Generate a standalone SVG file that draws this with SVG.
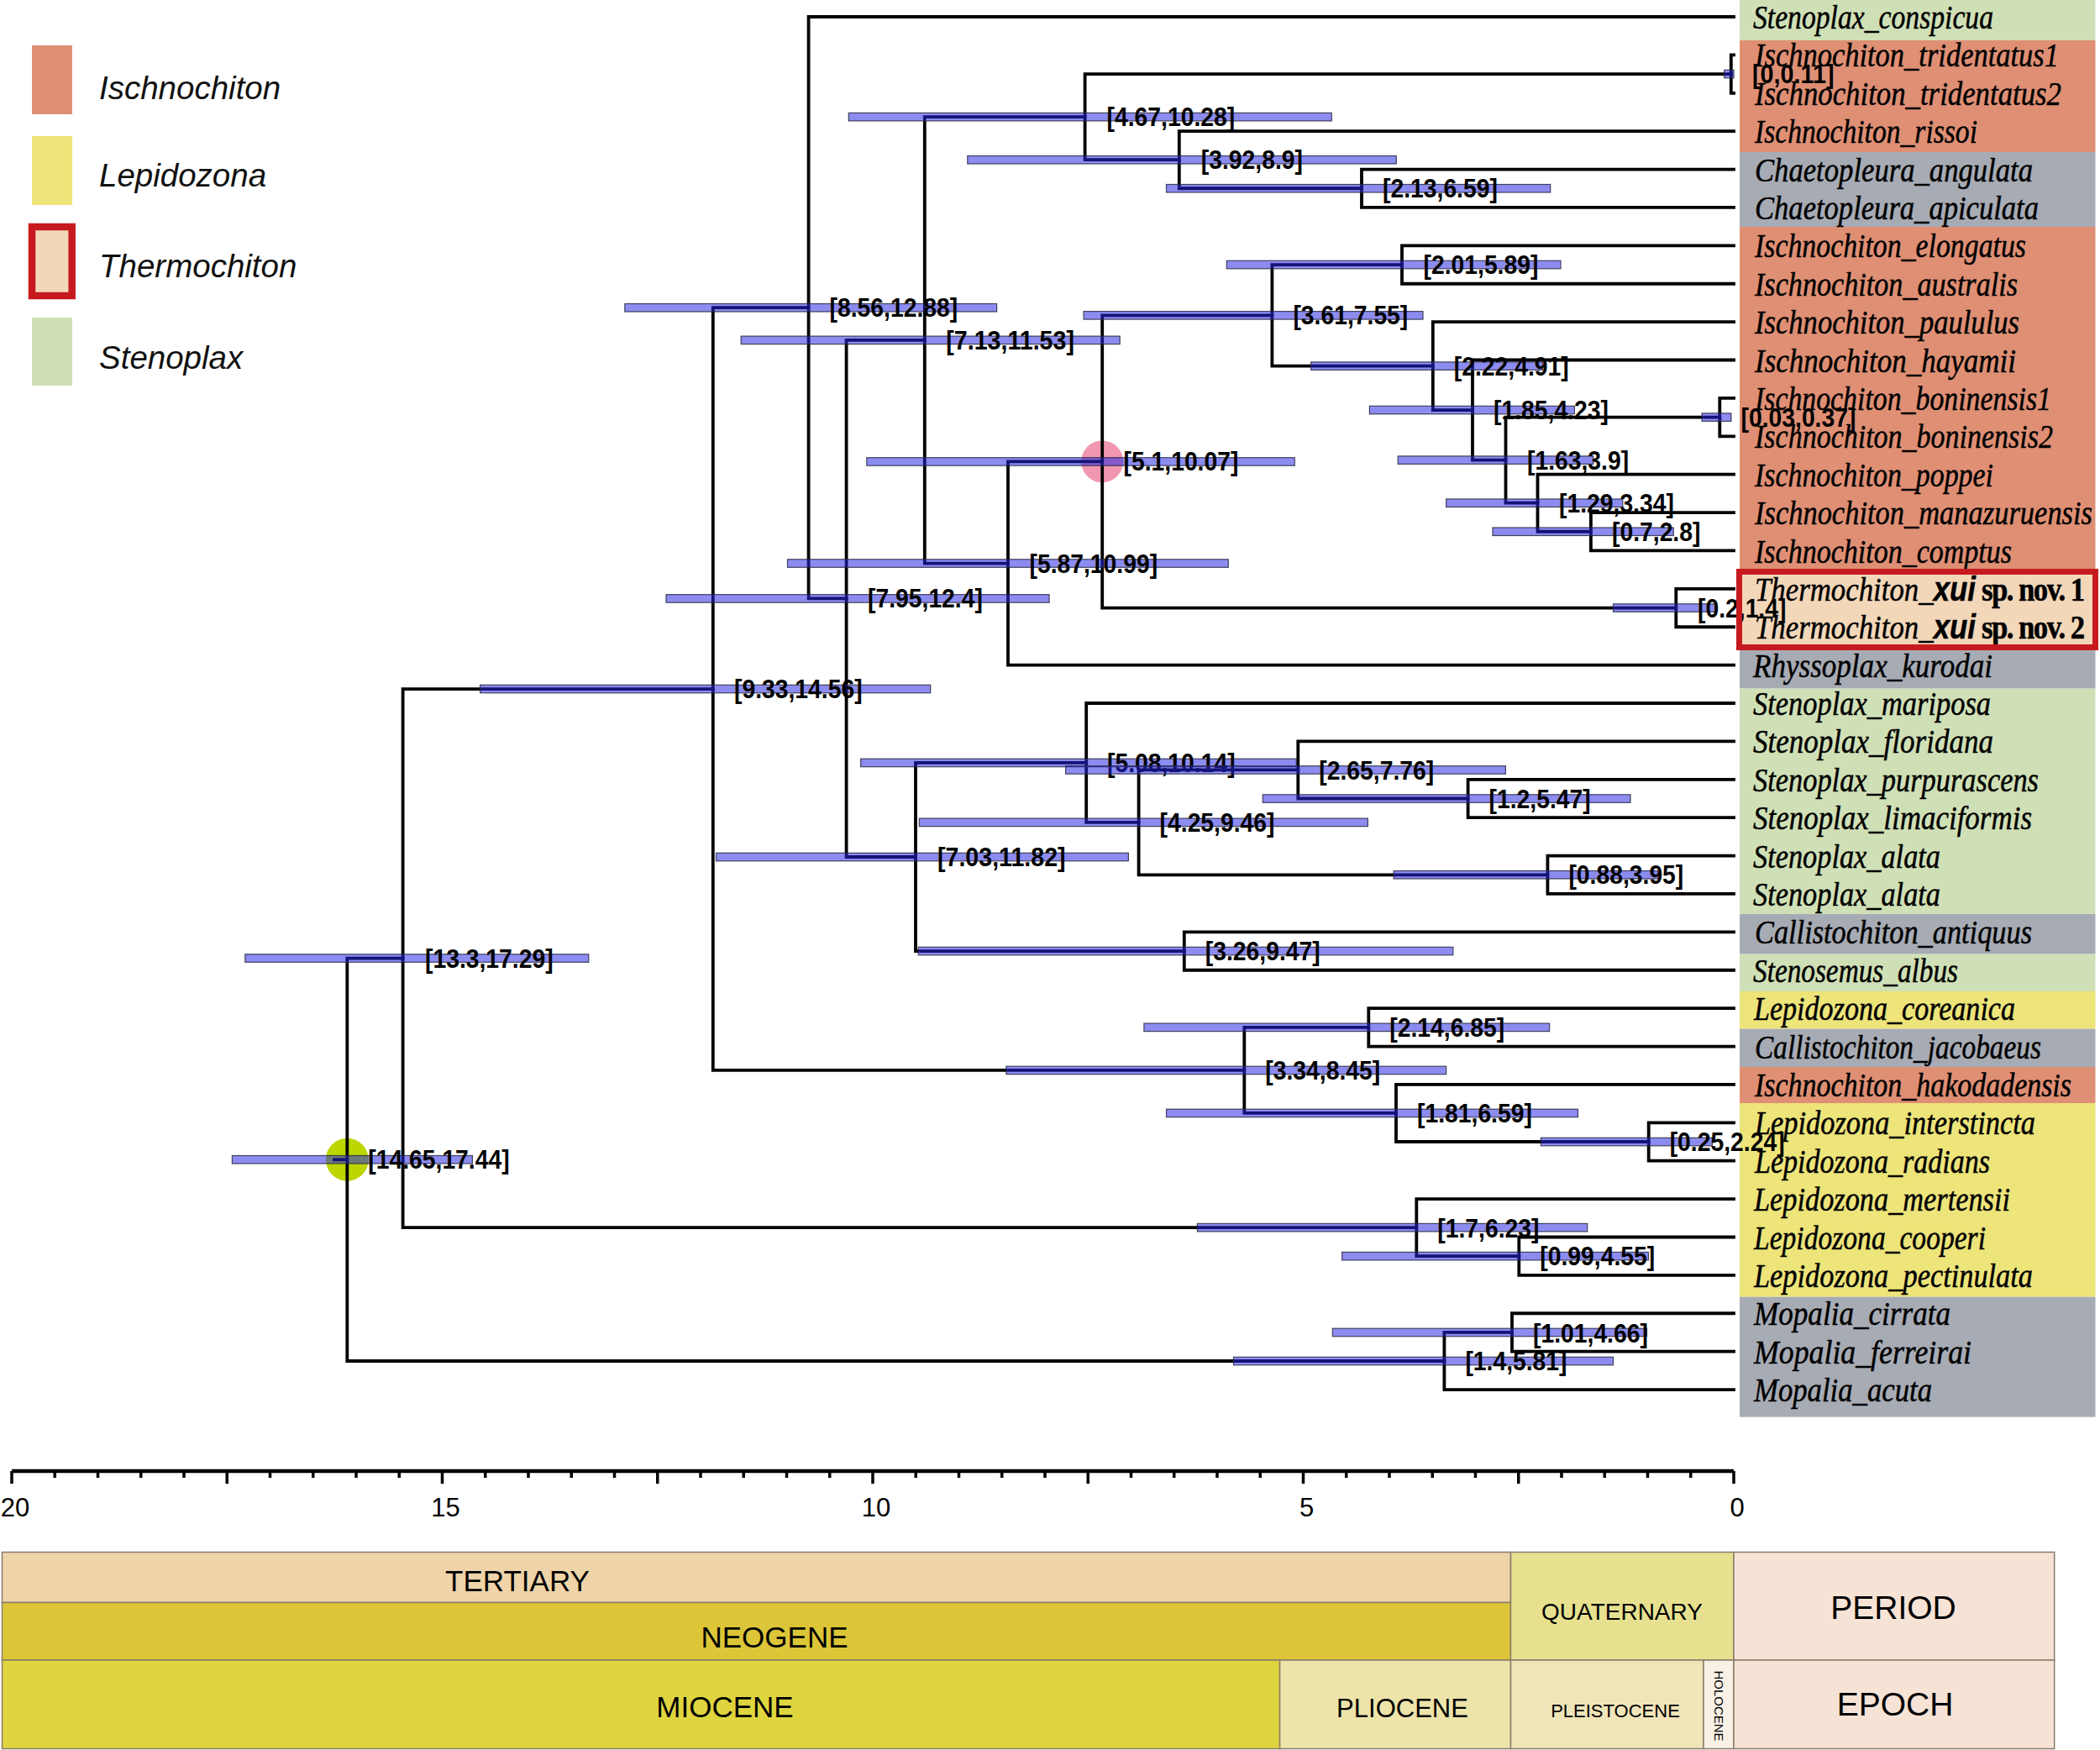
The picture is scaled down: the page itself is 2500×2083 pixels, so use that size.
<svg xmlns="http://www.w3.org/2000/svg" width="2500" height="2083" viewBox="0 0 2500 2083">
<style>
.ln{fill:none;stroke:#000;stroke-width:3.8;stroke-linejoin:miter;stroke-linecap:square}
.bar{fill:rgb(38,38,226);fill-opacity:0.53;stroke:#2a2a44;stroke-width:1.2;stroke-opacity:0.85}
.nl{font-family:"Liberation Sans",Arial,sans-serif;font-weight:bold;font-size:32px;fill:#000}
.tx{font-family:"Liberation Serif","Times New Roman",serif;font-style:italic;font-size:40px;fill:#000;stroke:#000;stroke-width:0.5}
.lg{font-family:"Liberation Sans",Arial,sans-serif;font-style:italic;font-size:38.5px;fill:#111}
.ax{font-family:"Liberation Sans",Arial,sans-serif;font-size:31px;fill:#000;text-anchor:middle}
.tb{font-family:"Liberation Sans",Arial,sans-serif;fill:#000;text-anchor:middle}
.cell{stroke:#8b7b6b;stroke-width:1.5}
.isc{fill:#DF8F74}.lep{fill:#EDE47A}.ste{fill:#D0E0B6}.gry{fill:#A7ABB4}
</style>

<!-- legend -->
<g id="legend">
<rect class="isc" x="38" y="54" width="48" height="82"/>
<text class="lg" x="118" y="118">Ischnochiton</text>
<rect class="lep" x="38" y="162" width="48" height="82"/>
<text class="lg" x="118" y="222">Lepidozona</text>
<rect x="38" y="270" width="47.7" height="82" fill="#F3D7B9" stroke="#C71A1F" stroke-width="8.5"/>
<text class="lg" x="118" y="330">Thermochiton</text>
<rect class="ste" x="38" y="378" width="48" height="81"/>
<text class="lg" x="118" y="439">Stenoplax</text>
</g>

<!-- clade bands -->
<g id="clade-bands">
<rect class="ste" x="2071" y="0" width="423.5" height="48"/>
<rect class="isc" x="2071" y="48" width="423.5" height="133"/>
<rect class="gry" x="2071" y="181" width="423.5" height="89"/>
<rect class="isc" x="2071" y="270" width="423.5" height="407"/>
<rect x="2070.5" y="680.5" width="424" height="90" fill="#F3D7B9"/>
<rect class="gry" x="2071" y="774" width="423.5" height="45.6"/>
<rect class="ste" x="2071" y="819.6" width="423.5" height="268.4"/>
<rect class="gry" x="2071" y="1088" width="423.5" height="47.7"/>
<rect class="ste" x="2071" y="1135.7" width="423.5" height="44.3"/>
<rect class="lep" x="2071" y="1180" width="423.5" height="44.6"/>
<rect class="gry" x="2071" y="1224.6" width="423.5" height="45.4"/>
<rect class="isc" x="2071" y="1270" width="423.5" height="43"/>
<rect class="lep" x="2071" y="1313" width="423.5" height="230.7"/>
<rect class="gry" x="2071" y="1543.7" width="423.5" height="142.9"/>
</g>

<!-- highlighted node markers -->
<g id="node-markers">
<circle cx="413.3" cy="1380.3" r="25.5" fill="#BDD600"/>
<circle cx="1312.2" cy="549.4" r="25" fill="#EE7E9C" fill-opacity="0.8"/>
</g>

<!-- connectors -->
<g id="connectors" class="ln">
<path d="M398 1380.3 H413.3"/>
<path d="M479.6 1140.6 H413.3 V1620 H1719.4"/>
<path d="M848.8 820.06 H479.6 V1461.13 H1686.3"/>
<path d="M962.6 366.21 H848.8 V1273.9 H1481.3"/>
<path d="M2064 20 H962.6 V712.42 H1007.6"/>
<path d="M1100.8 404.84 H1007.6 V1020 H1090"/>
<path d="M1291.6 139.15 H1100.8 V670.53 H1200"/>
<path d="M2060.8 88.09 H1291.6 V190.21 H1403.8"/>
<path d="M2064 65.39 H2060.8 V110.78 H2064"/>
<path d="M2064 156.17 H1403.8 V224.26 H1621"/>
<path d="M2064 201.56 H1621 V246.95 H2064"/>
<path d="M1312.2 549.43 H1200 V791.63 H2064"/>
<path d="M1514.4 375.32 H1312.2 V723.55 H1995.3"/>
<path d="M2064 700.85 H1995.3 V746.24 H2064"/>
<path d="M1669 315.04 H1514.4 V435.6 H1705.8"/>
<path d="M2064 292.34 H1669 V337.73 H2064"/>
<path d="M2064 383.12 H1705.8 V488.09 H1753"/>
<path d="M2064 428.51 H1753 V547.66 H1792.5"/>
<path d="M2047.3 496.6 H1792.5 V598.72 H1830.5"/>
<path d="M2064 473.9 H2047.3 V519.29 H2064"/>
<path d="M2064 564.68 H1830.5 V632.77 H1893.9"/>
<path d="M2064 610.07 H1893.9 V655.46 H2064"/>
<path d="M1293.2 907.94 H1090 V1132.06 H1409.8"/>
<path d="M2064 837.02 H1293.2 V978.86 H1355.6"/>
<path d="M1545.3 916.45 H1355.6 V1041.28 H1842.4"/>
<path d="M2064 882.41 H1545.3 V950.5 H1747.6"/>
<path d="M2064 927.8 H1747.6 V973.19 H2064"/>
<path d="M2064 1018.58 H1842.4 V1063.97 H2064"/>
<path d="M2064 1109.36 H1409.8 V1154.75 H2064"/>
<path d="M1629.3 1222.84 H1481.3 V1324.96 H1662"/>
<path d="M2064 1200.14 H1629.3 V1245.53 H2064"/>
<path d="M2064 1290.92 H1662 V1359 H1962.7"/>
<path d="M2064 1336.31 H1962.7 V1381.7 H2064"/>
<path d="M2064 1427.09 H1686.3 V1495.18 H1808.3"/>
<path d="M2064 1472.48 H1808.3 V1517.87 H2064"/>
<path d="M1800 1585.96 H1719.4 V1654.04 H2064"/>
<path d="M2064 1563.26 H1800 V1608.65 H2064"/>
</g>

<!-- internal nodes: HPD bars and labels -->
<g id="node-root"><rect class="bar" x="276.4" y="1375.5" width="286" height="9.5"/><text class="nl" x="438.3" y="1391.3" textLength="168.3" lengthAdjust="spacingAndGlyphs">[14.65,17.44]</text></g>
<g id="node-A"><rect class="bar" x="291.8" y="1135.8" width="409" height="9.5"/><text class="nl" x="506" y="1151.6" textLength="152.6" lengthAdjust="spacingAndGlyphs">[13.3,17.29]</text></g>
<g id="node-B"><rect class="bar" x="571.6" y="815.3" width="536.1" height="9.5"/><text class="nl" x="874" y="831.1" textLength="152.6" lengthAdjust="spacingAndGlyphs">[9.33,14.56]</text></g>
<g id="node-C"><rect class="bar" x="743.8" y="361.5" width="442.8" height="9.5"/><text class="nl" x="987.6" y="377.2" textLength="152.6" lengthAdjust="spacingAndGlyphs">[8.56,12.88]</text></g>
<g id="node-D"><rect class="bar" x="793" y="707.7" width="456.1" height="9.5"/><text class="nl" x="1033" y="723.4" textLength="136.9" lengthAdjust="spacingAndGlyphs">[7.95,12.4]</text></g>
<g id="node-E"><rect class="bar" x="882.2" y="400.1" width="451" height="9.5"/><text class="nl" x="1126.3" y="415.8" textLength="152.6" lengthAdjust="spacingAndGlyphs">[7.13,11.53]</text></g>
<g id="node-H"><rect class="bar" x="1010.3" y="134.4" width="575" height="9.5"/><text class="nl" x="1317.6" y="150.2" textLength="152.6" lengthAdjust="spacingAndGlyphs">[4.67,10.28]</text></g>
<g id="node-TR"><rect class="bar" x="2052.7" y="83.3" width="11.3" height="9.5"/><text class="nl" x="2086" y="99.1" textLength="97.5" lengthAdjust="spacingAndGlyphs">[0,0.11]</text></g>
<g id="node-I"><rect class="bar" x="1151.75" y="185.5" width="510.5" height="9.5"/><text class="nl" x="1429.8" y="201.2" textLength="121.1" lengthAdjust="spacingAndGlyphs">[3.92,8.9]</text></g>
<g id="node-J"><rect class="bar" x="1388.5" y="219.5" width="457.2" height="9.5"/><text class="nl" x="1646" y="235.3" textLength="136.9" lengthAdjust="spacingAndGlyphs">[2.13,6.59]</text></g>
<g id="node-G"><rect class="bar" x="937.5" y="665.8" width="524.8" height="9.5"/><text class="nl" x="1225.5" y="681.5" textLength="152.6" lengthAdjust="spacingAndGlyphs">[5.87,10.99]</text></g>
<g id="node-K"><rect class="bar" x="1031.8" y="544.7" width="509.5" height="9.5"/><text class="nl" x="1337.5" y="560.4" textLength="136.9" lengthAdjust="spacingAndGlyphs">[5.1,10.07]</text></g>
<g id="node-TH"><rect class="bar" x="1920.5" y="718.8" width="123" height="9.5"/><text class="nl" x="2021" y="734.6" textLength="105.4" lengthAdjust="spacingAndGlyphs">[0.2,1.4]</text></g>
<g id="node-L"><rect class="bar" x="1290.1" y="370.6" width="403.9" height="9.5"/><text class="nl" x="1539.4" y="386.3" textLength="136.9" lengthAdjust="spacingAndGlyphs">[3.61,7.55]</text></g>
<g id="node-M"><rect class="bar" x="1460.3" y="310.3" width="397.7" height="9.5"/><text class="nl" x="1694.5" y="326" textLength="136.9" lengthAdjust="spacingAndGlyphs">[2.01,5.89]</text></g>
<g id="node-N"><rect class="bar" x="1560.7" y="430.9" width="275.75" height="9.5"/><text class="nl" x="1730.8" y="446.6" textLength="136.9" lengthAdjust="spacingAndGlyphs">[2.22,4.91]</text></g>
<g id="node-O"><rect class="bar" x="1630.4" y="483.3" width="244" height="9.5"/><text class="nl" x="1778" y="499.1" textLength="136.9" lengthAdjust="spacingAndGlyphs">[1.85,4.23]</text></g>
<g id="node-P"><rect class="bar" x="1664.25" y="542.9" width="232.65" height="9.5"/><text class="nl" x="1818" y="558.7" textLength="121.1" lengthAdjust="spacingAndGlyphs">[1.63,3.9]</text></g>
<g id="node-BO"><rect class="bar" x="2026.1" y="491.9" width="34.8" height="9.5"/><text class="nl" x="2072.5" y="507.6" textLength="136.9" lengthAdjust="spacingAndGlyphs">[0.03,0.37]</text></g>
<g id="node-Q"><rect class="bar" x="1721.65" y="594" width="210.15" height="9.5"/><text class="nl" x="1856" y="609.7" textLength="136.9" lengthAdjust="spacingAndGlyphs">[1.29,3.34]</text></g>
<g id="node-R"><rect class="bar" x="1777" y="628" width="215.25" height="9.5"/><text class="nl" x="1919" y="643.8" textLength="105.4" lengthAdjust="spacingAndGlyphs">[0.7,2.8]</text></g>
<g id="node-F"><rect class="bar" x="852.5" y="1015.3" width="490.9" height="9.5"/><text class="nl" x="1116" y="1031" textLength="152.6" lengthAdjust="spacingAndGlyphs">[7.03,11.82]</text></g>
<g id="node-S"><rect class="bar" x="1024.65" y="903.2" width="518.65" height="9.5"/><text class="nl" x="1318" y="918.9" textLength="152.6" lengthAdjust="spacingAndGlyphs">[5.08,10.14]</text></g>
<g id="node-U"><rect class="bar" x="1094.35" y="974.1" width="534.05" height="9.5"/><text class="nl" x="1380.6" y="989.9" textLength="136.9" lengthAdjust="spacingAndGlyphs">[4.25,9.46]</text></g>
<g id="node-V"><rect class="bar" x="1268.6" y="911.7" width="523.8" height="9.5"/><text class="nl" x="1570.3" y="927.5" textLength="136.9" lengthAdjust="spacingAndGlyphs">[2.65,7.76]</text></g>
<g id="node-X"><rect class="bar" x="1503.3" y="945.8" width="437.7" height="9.5"/><text class="nl" x="1772.6" y="961.5" textLength="121.1" lengthAdjust="spacingAndGlyphs">[1.2,5.47]</text></g>
<g id="node-W"><rect class="bar" x="1659.1" y="1036.5" width="314.7" height="9.5"/><text class="nl" x="1867.4" y="1052.3" textLength="136.9" lengthAdjust="spacingAndGlyphs">[0.88,3.95]</text></g>
<g id="node-T"><rect class="bar" x="1093.3" y="1127.3" width="636.55" height="9.5"/><text class="nl" x="1434.8" y="1143.1" textLength="136.9" lengthAdjust="spacingAndGlyphs">[3.26,9.47]</text></g>
<g id="node-Y"><rect class="bar" x="1197.9" y="1269.2" width="523.75" height="9.5"/><text class="nl" x="1506.3" y="1284.9" textLength="136.9" lengthAdjust="spacingAndGlyphs">[3.34,8.45]</text></g>
<g id="node-Z"><rect class="bar" x="1361.9" y="1218.1" width="482.75" height="9.5"/><text class="nl" x="1654.3" y="1233.8" textLength="136.9" lengthAdjust="spacingAndGlyphs">[2.14,6.85]</text></g>
<g id="node-AA"><rect class="bar" x="1388.5" y="1320.2" width="490" height="9.5"/><text class="nl" x="1687" y="1336" textLength="136.9" lengthAdjust="spacingAndGlyphs">[1.81,6.59]</text></g>
<g id="node-AB"><rect class="bar" x="1834.4" y="1354.3" width="204" height="9.5"/><text class="nl" x="1987.7" y="1370" textLength="136.9" lengthAdjust="spacingAndGlyphs">[0.25,2.24]</text></g>
<g id="node-AC"><rect class="bar" x="1425.4" y="1456.4" width="464.35" height="9.5"/><text class="nl" x="1711.3" y="1473" textLength="121.1" lengthAdjust="spacingAndGlyphs">[1.7,6.23]</text></g>
<g id="node-AD"><rect class="bar" x="1597.6" y="1490.4" width="364.9" height="9.5"/><text class="nl" x="1833.3" y="1506.2" textLength="136.9" lengthAdjust="spacingAndGlyphs">[0.99,4.55]</text></g>
<g id="node-AE"><rect class="bar" x="1468.5" y="1615.3" width="452" height="9.5"/><text class="nl" x="1744.4" y="1631" textLength="121.1" lengthAdjust="spacingAndGlyphs">[1.4,5.81]</text></g>
<g id="node-AF"><rect class="bar" x="1586.35" y="1581.2" width="374.15" height="9.5"/><text class="nl" x="1825" y="1598" textLength="136.9" lengthAdjust="spacingAndGlyphs">[1.01,4.66]</text></g>

<!-- taxa -->
<g id="taxa" class="tx">
<g id="taxon-0"><text x="2087" y="34" textLength="286" lengthAdjust="spacingAndGlyphs">Stenoplax_conspicua</text></g>
<g id="taxon-1"><text x="2089" y="79.4" textLength="362" lengthAdjust="spacingAndGlyphs">Ischnochiton_tridentatus1</text></g>
<g id="taxon-2"><text x="2089" y="124.8" textLength="365" lengthAdjust="spacingAndGlyphs">Ischnochiton_tridentatus2</text></g>
<g id="taxon-3"><text x="2089" y="170.2" textLength="265" lengthAdjust="spacingAndGlyphs">Ischnochiton_rissoi</text></g>
<g id="taxon-4"><text x="2089" y="215.6" textLength="331" lengthAdjust="spacingAndGlyphs">Chaetopleura_angulata</text></g>
<g id="taxon-5"><text x="2089" y="261" textLength="338" lengthAdjust="spacingAndGlyphs">Chaetopleura_apiculata</text></g>
<g id="taxon-6"><text x="2089" y="306.3" textLength="323" lengthAdjust="spacingAndGlyphs">Ischnochiton_elongatus</text></g>
<g id="taxon-7"><text x="2089" y="351.7" textLength="313" lengthAdjust="spacingAndGlyphs">Ischnochiton_australis</text></g>
<g id="taxon-8"><text x="2089" y="397.1" textLength="315" lengthAdjust="spacingAndGlyphs">Ischnochiton_paululus</text></g>
<g id="taxon-9"><text x="2089" y="442.5" textLength="311" lengthAdjust="spacingAndGlyphs">Ischnochiton_hayamii</text></g>
<g id="taxon-10"><text x="2089" y="487.9" textLength="353" lengthAdjust="spacingAndGlyphs">Ischnochiton_boninensis1</text></g>
<g id="taxon-11"><text x="2089" y="533.3" textLength="355" lengthAdjust="spacingAndGlyphs">Ischnochiton_boninensis2</text></g>
<g id="taxon-12"><text x="2089" y="578.7" textLength="284" lengthAdjust="spacingAndGlyphs">Ischnochiton_poppei</text></g>
<g id="taxon-13"><text x="2089" y="624.1" textLength="402" lengthAdjust="spacingAndGlyphs">Ischnochiton_manazuruensis</text></g>
<g id="taxon-14"><text x="2089" y="669.5" textLength="306" lengthAdjust="spacingAndGlyphs">Ischnochiton_comptus</text></g>
<g id="taxon-15"><text transform="translate(2089,714.85) scale(0.87,1)">Thermochiton_<tspan font-family="'Liberation Sans',Arial,sans-serif" font-weight="bold">xui</tspan><tspan font-style="normal" font-weight="bold" letter-spacing="-1.8"> sp. nov. 1</tspan></text></g>
<g id="taxon-16"><text transform="translate(2089,760.24) scale(0.87,1)">Thermochiton_<tspan font-family="'Liberation Sans',Arial,sans-serif" font-weight="bold">xui</tspan><tspan font-style="normal" font-weight="bold" letter-spacing="-1.8"> sp. nov. 2</tspan></text></g>
<g id="taxon-17"><text x="2087" y="805.6" textLength="285" lengthAdjust="spacingAndGlyphs">Rhyssoplax_kurodai</text></g>
<g id="taxon-18"><text x="2087" y="851" textLength="283" lengthAdjust="spacingAndGlyphs">Stenoplax_mariposa</text></g>
<g id="taxon-19"><text x="2087" y="896.4" textLength="286" lengthAdjust="spacingAndGlyphs">Stenoplax_floridana</text></g>
<g id="taxon-20"><text x="2087" y="941.8" textLength="340" lengthAdjust="spacingAndGlyphs">Stenoplax_purpurascens</text></g>
<g id="taxon-21"><text x="2087" y="987.2" textLength="332" lengthAdjust="spacingAndGlyphs">Stenoplax_limaciformis</text></g>
<g id="taxon-22"><text x="2087" y="1032.6" textLength="223" lengthAdjust="spacingAndGlyphs">Stenoplax_alata</text></g>
<g id="taxon-23"><text x="2087" y="1078" textLength="223" lengthAdjust="spacingAndGlyphs">Stenoplax_alata</text></g>
<g id="taxon-24"><text x="2089" y="1123.4" textLength="330" lengthAdjust="spacingAndGlyphs">Callistochiton_antiquus</text></g>
<g id="taxon-25"><text x="2087" y="1168.8" textLength="244" lengthAdjust="spacingAndGlyphs">Stenosemus_albus</text></g>
<g id="taxon-26"><text x="2088" y="1214.1" textLength="311" lengthAdjust="spacingAndGlyphs">Lepidozona_coreanica</text></g>
<g id="taxon-27"><text x="2089" y="1259.5" textLength="341" lengthAdjust="spacingAndGlyphs">Callistochiton_jacobaeus</text></g>
<g id="taxon-28"><text x="2089" y="1304.9" textLength="377" lengthAdjust="spacingAndGlyphs">Ischnochiton_hakodadensis</text></g>
<g id="taxon-29"><text x="2089" y="1350.3" textLength="334" lengthAdjust="spacingAndGlyphs">Lepidozona_interstincta</text></g>
<g id="taxon-30"><text x="2089" y="1395.7" textLength="280" lengthAdjust="spacingAndGlyphs">Lepidozona_radians</text></g>
<g id="taxon-31"><text x="2088" y="1441.1" textLength="305" lengthAdjust="spacingAndGlyphs">Lepidozona_mertensii</text></g>
<g id="taxon-32"><text x="2088" y="1486.5" textLength="276" lengthAdjust="spacingAndGlyphs">Lepidozona_cooperi</text></g>
<g id="taxon-33"><text x="2088" y="1531.9" textLength="332" lengthAdjust="spacingAndGlyphs">Lepidozona_pectinulata</text></g>
<g id="taxon-34"><text x="2088" y="1577.3" textLength="234" lengthAdjust="spacingAndGlyphs">Mopalia_cirrata</text></g>
<g id="taxon-35"><text x="2088" y="1622.7" textLength="259" lengthAdjust="spacingAndGlyphs">Mopalia_ferreirai</text></g>
<g id="taxon-36"><text x="2088" y="1668" textLength="212" lengthAdjust="spacingAndGlyphs">Mopalia_acuta</text></g>
</g>

<rect id="thermochiton-frame" x="2070.5" y="680.5" width="424" height="90" fill="none" stroke="#C71A1F" stroke-width="7"/>

<!-- time axis -->
<g id="axis">
<path d="M14 1751 H2064" stroke="#000" stroke-width="4.5" fill="none"/>
<path stroke="#000" stroke-width="3.5" fill="none" d="M2064 1751V1766M2012.75 1751V1759M1961.5 1751V1759M1910.25 1751V1759M1859 1751V1759M1807.75 1751V1766M1756.5 1751V1759M1705.25 1751V1759M1654 1751V1759M1602.75 1751V1759M1551.5 1751V1766M1500.25 1751V1759M1449 1751V1759M1397.75 1751V1759M1346.5 1751V1759M1295.25 1751V1766M1244 1751V1759M1192.75 1751V1759M1141.5 1751V1759M1090.25 1751V1759M1039 1751V1766M987.75 1751V1759M936.5 1751V1759M885.25 1751V1759M834 1751V1759M782.75 1751V1766M731.5 1751V1759M680.25 1751V1759M629 1751V1759M577.75 1751V1759M526.5 1751V1766M475.25 1751V1759M424 1751V1759M372.75 1751V1759M321.5 1751V1759M270.25 1751V1766M219 1751V1759M167.75 1751V1759M116.5 1751V1759M65.25 1751V1759M14 1751V1766"/>
<text class="ax" x="18" y="1805">20</text>
<text class="ax" x="530.5" y="1805">15</text>
<text class="ax" x="1043" y="1805">10</text>
<text class="ax" x="1555.5" y="1805">5</text>
<text class="ax" x="2068" y="1805">0</text>
</g>

<!-- geological time table -->
<g id="timescale">
<rect class="cell" x="2.5" y="1847.5" width="1796" height="60" fill="#EED4A8"/>
<rect class="cell" x="2.5" y="1907.5" width="1796" height="68.5" fill="#DCC638"/>
<rect class="cell" x="2.5" y="1976" width="1521.1" height="105.5" fill="#DFD53F"/>
<rect class="cell" x="1523.6" y="1976" width="274.9" height="105.5" fill="#EDE4A9"/>
<rect class="cell" x="1798.5" y="1847.5" width="265.5" height="128.5" fill="#E7E18F"/>
<rect class="cell" x="1798.5" y="1976" width="229.5" height="105.5" fill="#F0E5B9"/>
<rect class="cell" x="2028" y="1976" width="36" height="105.5" fill="#FAF1E6"/>
<rect class="cell" x="2064" y="1847.5" width="381.7" height="128.5" fill="#F6E3D6"/>
<rect class="cell" x="2064" y="1976" width="381.7" height="105.5" fill="#F6E3D6"/>
<text class="tb" x="616" y="1894" font-size="35">TERTIARY</text>
<text class="tb" x="922" y="1961" font-size="35">NEOGENE</text>
<text class="tb" x="863" y="2044" font-size="35">MIOCENE</text>
<text class="tb" x="1669.5" y="2044" font-size="31">PLIOCENE</text>
<text class="tb" x="1931" y="1928" font-size="28">QUATERNARY</text>
<text class="tb" x="1923" y="2044" font-size="22">PLEISTOCENE</text>
<text class="tb" font-size="15" transform="translate(2045.7,2030.5) rotate(90)" y="5">HOLOCENE</text>
<text class="tb" x="2254" y="1927" font-size="39">PERIOD</text>
<text class="tb" x="2256" y="2042" font-size="39">EPOCH</text>
</g>
</svg>
